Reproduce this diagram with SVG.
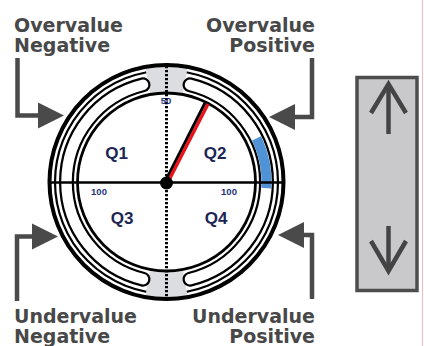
<svg xmlns="http://www.w3.org/2000/svg" width="424" height="346" viewBox="0 0 424 346">
<style>
.lbl{font-family:"DejaVu Sans",Verdana,sans-serif;font-weight:bold;font-size:19px;fill:#484848}
.q{font-family:"Liberation Sans",Arial,sans-serif;font-weight:bold;font-size:17px;fill:#1c2654;text-anchor:middle}
.num{font-family:"Liberation Sans",Arial,sans-serif;font-weight:bold;font-size:9.5px;fill:#24327a;text-anchor:middle}
.conn{fill:none;stroke:#4a4a4a;stroke-width:4.5}
.head{fill:#4a4a4a}
.ring{fill:none;stroke:#000}
.sb{fill:none;stroke:#444;stroke-width:4.5;stroke-linecap:butt}
</style>
<rect width="424" height="346" fill="#fff"/>
<line x1="422.5" y1="0" x2="422.5" y2="346" stroke="#f2bcbc" stroke-width="1"/>

<g id="label-overvalue-negative">
<text class="lbl" x="14" y="32">Overvalue</text>
<text class="lbl" x="14" y="52">Negative</text>
</g>
<g id="label-overvalue-positive">
<text class="lbl" x="315" y="32" text-anchor="end">Overvalue</text>
<text class="lbl" x="315" y="52" text-anchor="end">Positive</text>
</g>
<g id="label-undervalue-negative">
<text class="lbl" x="14" y="322.5">Undervalue</text>
<text class="lbl" x="14" y="343">Negative</text>
</g>
<g id="label-undervalue-positive">
<text class="lbl" x="315" y="322.5" text-anchor="end">Undervalue</text>
<text class="lbl" x="315" y="343" text-anchor="end">Positive</text>
</g>

<g id="gauge">
<circle cx="166.5" cy="182" r="118" fill="#fff"/>
<circle class="ring" cx="166.5" cy="182" r="111.5" stroke-width="2.2"/>
<path d="M145.4,67.94 A116,116 0 0 1 187.6,67.94 L182.7,94.5 A89,89 0 0 0 150.3,94.5 Z" fill="#dcdde0"/>
<path d="M145.4,296.06 A116,116 0 0 0 187.6,296.06 L182.7,269.5 A89,89 0 0 1 150.3,269.5 Z" fill="#dcdde0"/>
<path class="ring" d="M190,84.8 A100,100 0 0 1 190,279.2" stroke-width="15" stroke-linecap="round"/>
<path d="M190,84.8 A100,100 0 0 1 190,279.2" fill="none" stroke="#fff" stroke-width="10.5" stroke-linecap="round"/>
<path class="ring" d="M143,279.2 A100,100 0 0 1 143,84.8" stroke-width="15" stroke-linecap="round"/>
<path d="M143,279.2 A100,100 0 0 1 143,84.8" fill="none" stroke="#fff" stroke-width="10.5" stroke-linecap="round"/>
<path d="M256.6,138.4 A100,100 0 0 1 266.3,188.1" fill="none" stroke="#4f93d6" stroke-width="10"/>
<circle class="ring" cx="166.5" cy="182" r="89" stroke-width="2.8"/>
<circle class="ring" cx="166.5" cy="182" r="117" stroke-width="4"/>
<line x1="166.5" y1="66" x2="166.5" y2="298" stroke="#000" stroke-width="3" stroke-dasharray="2.2 1.8"/>
<line x1="51" y1="182.5" x2="283" y2="182.5" stroke="#000" stroke-width="2.6"/>
<text class="num" x="166" y="104">50</text>
<text class="num" x="99" y="195">100</text>
<text class="num" x="229" y="195">100</text>
<text class="q" x="116.5" y="159">Q1</text>
<text class="q" x="215" y="159">Q2</text>
<text class="q" x="122" y="224">Q3</text>
<text class="q" x="216" y="224">Q4</text>
<line x1="165" y1="182" x2="205" y2="103" stroke="#000" stroke-width="3"/>
<line x1="168" y1="182" x2="208" y2="104" stroke="#e8141c" stroke-width="3.4"/>
<circle cx="166.5" cy="183" r="6.5" fill="#000"/>
</g>

<g id="scrollbar">
<rect x="357" y="77.5" width="60" height="213" fill="#c9c9cc" stroke="#4d4d4d" stroke-width="3.5"/>
<path class="sb" d="M388.5,134 V84"/>
<path class="sb" d="M371,113 L388.5,84 L406,113" stroke-linejoin="miter"/>
<path class="sb" d="M388.5,226 V271"/>
<path class="sb" d="M371,241 L388.5,271 L406,241" stroke-linejoin="miter"/>
</g>

<g id="connectors">
<path class="conn" d="M17.5,58 V115.5 H42"/>
<polygon class="head" points="38,102.5 64,115.5 38,128.5"/>
<path class="conn" d="M312,58 V117 H291"/>
<polygon class="head" points="295,104 269,117 295,130"/>
<path class="conn" d="M17,301 V236.5 H36"/>
<polygon class="head" points="32,223.5 58,236.5 32,249.5"/>
<path class="conn" d="M312,299 V235 H300"/>
<polygon class="head" points="304,222 278,235 304,248"/>
</g>
</svg>
